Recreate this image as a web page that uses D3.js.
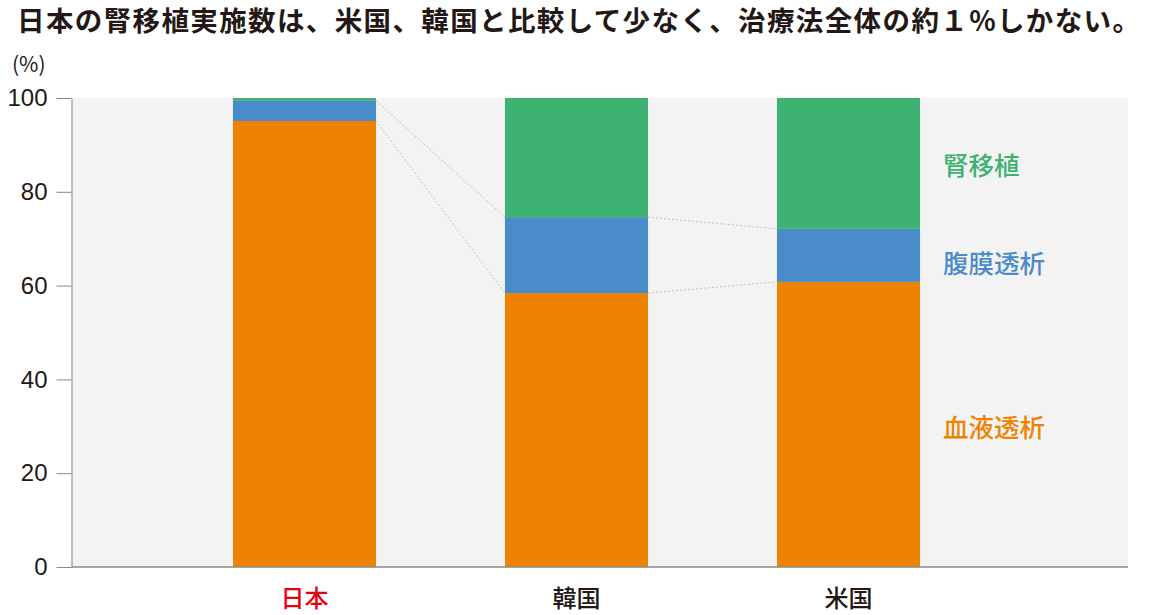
<!DOCTYPE html>
<html>
<head>
<meta charset="utf-8">
<script src="https://cdn.jsdelivr.net/npm/d3@7"></script>
<style>
  html, body { margin: 0; padding: 0; background: #fff; }
  svg { display: block; font-family: "Noto Sans CJK JP", "Noto Sans", sans-serif; }
</style>
</head>
<body>
<svg id="chart" width="1154" height="615"></svg>
<script>
// data (%)
const countries = ["日本", "韓国", "米国"];
const hemodialysis = [95.1, 58.4, 60.8];
const peritoneal = [4.3, 16.2, 11.3];
const transplant = [0.6, 25.4, 27.9];
const seriesNames = ["血液透析", "腹膜透析", "腎移植"];
const yTicks = [0, 20, 40, 60, 80, 100];
const title = "日本の腎移植実施数は、米国、韓国と比較して少なく、治療法全体の約１%しかない。";

const COLORS = { "血液透析": "#ef8200", "腹膜透析": "#4a8cc9", "腎移植": "#3db271" };
const INK = "#231815";

const svg = d3.select("#chart");
const plot = { left: 71.5, right: 1128, top: 98, bottom: 567 };

const x = d3.scaleBand()
  .domain(countries)
  .range([168.5, 984.5])
  .paddingInner(0.474)
  .paddingOuter(0.237);

const y = d3.scaleLinear().domain([0, 100]).range([plot.bottom, plot.top]);

// table for stacking
const rows = countries.map((c, i) => ({
  country: c,
  "血液透析": hemodialysis[i],
  "腹膜透析": peritoneal[i],
  "腎移植": transplant[i]
}));
const stacked = d3.stack().keys(seriesNames)(rows);

// title (stretched to the same width as the original)
svg.append("text")
  .attr("x", 17).attr("y", 31)
  .attr("textLength", 1123)
  .attr("lengthAdjust", "spacing")
  .style("font-size", "27.5px").style("font-weight", 700)
  .attr("fill", INK)
  .text(title);

// unit
svg.append("text")
  .attr("x", 12).attr("y", 72)
  .style("font-size", "21px")
  .attr("fill", INK)
  .text("(%)");

// background
svg.append("rect")
  .attr("x", plot.left).attr("y", plot.top)
  .attr("width", plot.right - plot.left)
  .attr("height", plot.bottom - plot.top)
  .attr("fill", "#f3f3f3");

// connector lines between adjacent bars (boundaries of HD and HD+PD)
const conn = svg.append("g")
  .attr("stroke", "#c4c4c4")
  .attr("stroke-width", 1)
  .attr("stroke-dasharray", "2,2")
  .attr("fill", "none");
[0, 1].forEach((k) => {
  for (let i = 0; i < countries.length - 1; i++) {
    const a = stacked[k][i][1];
    const b = stacked[k][i + 1][1];
    conn.append("line")
      .attr("x1", x(countries[i]) + x.bandwidth())
      .attr("y1", y(a))
      .attr("x2", x(countries[i + 1]))
      .attr("y2", y(b));
  }
});

// bars
svg.append("g")
  .selectAll("g")
  .data(stacked)
  .join("g")
  .attr("fill", (d) => COLORS[d.key])
  .selectAll("rect")
  .data((d) => d)
  .join("rect")
  .attr("x", (d) => x(d.data.country))
  .attr("y", (d) => y(d[1]))
  .attr("width", x.bandwidth())
  .attr("height", (d) => y(d[0]) - y(d[1]));

// y axis
const yAxis = svg.append("g")
  .attr("transform", `translate(${plot.left},0)`)
  .call(d3.axisLeft(y).tickValues(yTicks).tickSize(15).tickPadding(9).tickSizeOuter(0));
yAxis.select(".domain").attr("stroke", "#888");
yAxis.selectAll(".tick line").attr("stroke", "#888");
yAxis.selectAll(".tick text")
  .attr("fill", INK)
  .style("font-size", "24px")
  .style("font-family", "'Liberation Sans', 'Noto Sans', sans-serif");

// baseline
svg.append("line")
  .attr("x1", plot.left).attr("x2", plot.right)
  .attr("y1", plot.bottom).attr("y2", plot.bottom)
  .attr("stroke", "#888").attr("stroke-width", 1.5);

// category labels
svg.append("g")
  .selectAll("text")
  .data(countries)
  .join("text")
  .attr("x", (d) => x(d) + x.bandwidth() / 2)
  .attr("y", 607)
  .attr("text-anchor", "middle")
  .style("font-size", "24px")
  .style("font-weight", 500)
  .attr("fill", (d) => (d === "日本" ? "#e60012" : INK))
  .text((d) => d);

// series labels beside the last bar
const last = countries.length - 1;
const nudge = { "血液透析": 4, "腹膜透析": 9, "腎移植": 3 };
svg.append("g")
  .selectAll("text")
  .data(stacked)
  .join("text")
  .attr("x", 943)
  .attr("y", (s) => (y(s[last][0]) + y(s[last][1])) / 2 + nudge[s.key])
  .attr("dy", "0.35em")
  .style("font-size", "25.5px")
  .style("font-weight", 500)
  .attr("fill", (s) => COLORS[s.key])
  .text((s) => s.key);
</script>
</body>
</html>
